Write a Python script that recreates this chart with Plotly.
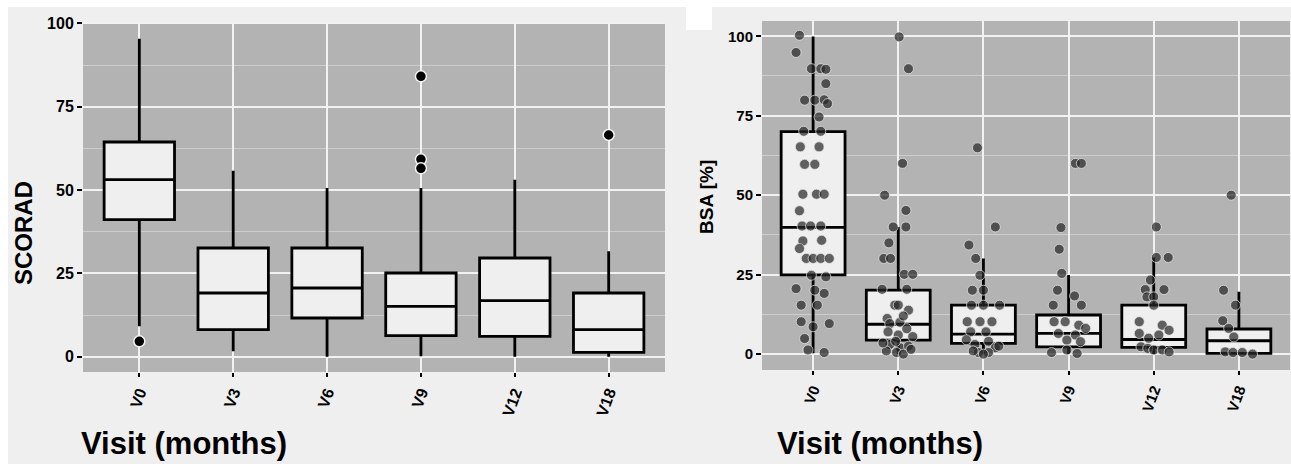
import plotly.graph_objects as go

# ---------------- data ----------------
visits = ["V0", "V3", "V6", "V9", "V12", "V18"]

# SCORAD box statistics
scorad_lowerfence = [9.1, 1.6, 0.0, 0.1, 0.0, 0.0]
scorad_q1 = [41.1, 8.1, 11.6, 6.3, 6.1, 1.3]
scorad_median = [53.1, 19.1, 20.6, 15.1, 16.8, 8.1]
scorad_q3 = [64.4, 32.6, 32.6, 25.1, 29.6, 19.1]
scorad_upperfence = [95.4, 55.8, 50.6, 50.6, 53.1, 31.6]
scorad_outlier_visit = [0, 3, 3, 3, 5]
scorad_outlier_value = [4.6, 84.1, 59.2, 56.5, 66.5]

# BSA box statistics
bsa_lowerfence = [0.3, 0.0, 0.0, 0.0, 0.0, 0.0]
bsa_q1 = [24.9, 4.4, 3.4, 2.3, 2.1, 0.2]
bsa_median = [39.9, 9.4, 6.3, 6.5, 4.6, 4.2]
bsa_q3 = [70.0, 20.1, 15.4, 12.3, 15.4, 7.9]
bsa_upperfence = [99.9, 40.0, 30.1, 24.9, 30.4, 19.6]

# BSA individual (jittered) observations per visit: values and jitter offsets
bsa_v0_values = [100.3, 94.9, 89.8, 89.8, 89.6, 85.1, 79.9, 79.9, 80.0, 78.8, 74.6, 70.1, 70.1,
                 65.2, 65.2, 59.7, 59.7, 50.3, 50.3, 50.3, 45.1, 40.3, 40.3, 40.3, 35.6, 35.8,
                 33.2, 30.1, 30.1, 30.1, 30.1, 24.8, 24.3, 20.6, 20.1, 19.1, 15.4, 15.4, 10.2,
                 8.6, 9.6, 4.9, 1.3, 0.5]
bsa_v0_jitter = [-0.16, -0.20, -0.02, 0.09, 0.15, 0.15, -0.10, 0.02, 0.13, 0.17, 0.07, -0.11, 0.09,
                 -0.15, 0.07, -0.10, 0.02, -0.12, 0.04, 0.13, -0.16, -0.13, -0.03, 0.09, -0.12, 0.10,
                 -0.16, -0.08, 0.00, 0.09, 0.19, -0.02, 0.15, -0.20, 0.02, 0.13, -0.14, 0.05, -0.14,
                 0.00, 0.19, -0.10, -0.06, 0.13]
bsa_v3_values = [99.8, 89.8, 60.0, 50.0, 45.2, 40.0, 40.0, 35.0, 30.1, 30.1, 25.1, 25.1, 20.4, 20.4,
                 15.4, 15.4, 13.8, 11.2, 9.6, 10.0, 7.0, 6.0, 8.0, 5.5, 3.0, 2.0, 1.0, 4.0, 2.5,
                 0.5, 0.0, 1.5, 3.5, 12.0]
bsa_v3_jitter = [0.01, 0.12, 0.05, -0.16, 0.09, -0.06, 0.09, -0.11, -0.17, -0.09, 0.07, 0.17, -0.19, 0.10,
                 -0.04, 0.00, 0.12, -0.13, -0.10, 0.02, -0.12, 0.00, 0.10, 0.17, -0.10, 0.02, -0.14, -0.03, 0.12,
                 -0.02, 0.06, 0.15, -0.18, 0.06]
bsa_v6_values = [64.9, 40.0, 34.3, 30.1, 24.8, 20.1, 20.1, 15.4, 15.4, 15.4, 10.2, 10.2, 10.2, 7.0,
                 7.0, 4.5, 3.0, 4.0, 2.0, 0.5, 1.0, 0.5, 0.0, 2.5]
bsa_v6_jitter = [-0.07, 0.14, -0.17, -0.09, -0.04, -0.13, 0.00, -0.14, 0.00, 0.19, -0.19, -0.04, 0.10, -0.15,
                 0.03, -0.20, -0.10, 0.06, 0.14, -0.06, -0.12, 0.06, 0.00, 0.18]
bsa_v9_values = [60.0, 60.0, 39.8, 33.0, 25.4, 20.1, 18.3, 15.4, 15.4, 10.2, 10.2, 9.1, 8.1, 6.5,
                 6.0, 4.4, 3.9, 0.5, 1.3, 0.2]
bsa_v9_jitter = [0.08, 0.15, -0.09, -0.11, -0.08, -0.13, 0.07, -0.18, 0.15, -0.17, -0.04, 0.12, 0.20, -0.12,
                 0.08, -0.02, 0.14, -0.20, -0.02, 0.10]
bsa_v12_values = [40.0, 30.4, 30.4, 23.3, 20.3, 20.3, 18.0, 18.0, 15.4, 10.2, 9.1, 7.5, 6.5, 5.0,
                  6.0, 2.3, 1.8, 1.3, 1.3, 0.7]
bsa_v12_jitter = [0.03, 0.03, 0.17, -0.04, -0.10, 0.12, -0.08, 0.00, 0.00, -0.17, 0.10, 0.18, -0.17, -0.06,
                  0.06, -0.15, -0.07, 0.00, 0.10, 0.18]
bsa_v18_values = [50.0, 20.1, 15.4, 10.5, 8.1, 5.4, 0.7, 0.5, 0.5, 0.0]
bsa_v18_jitter = [-0.09, -0.18, -0.04, -0.19, -0.12, -0.06, -0.16, -0.07, 0.04, 0.16]

y_ticks = [0, 25, 50, 75, 100]

# ---------------- figure ----------------
W, H = 1291, 464
PANEL_BG = "#b3b3b3"
OUTER_BG = "#efefef"
BOX_FILL = "#efefef"
FONT = "Liberation Sans, Arial, sans-serif"

def px_x(p):
    return p / W

def px_y(p):
    return 1 - p / H

fig = go.Figure()
idx = list(range(len(visits)))

fig.add_trace(go.Box(
    x=idx, q1=scorad_q1, median=scorad_median, q3=scorad_q3,
    lowerfence=scorad_lowerfence, upperfence=scorad_upperfence,
    width=0.75, whiskerwidth=0, boxpoints=False,
    fillcolor=BOX_FILL, line=dict(color="black", width=2.8),
    xaxis="x", yaxis="y", showlegend=False, hoverinfo="skip"))

fig.add_trace(go.Scatter(
    x=scorad_outlier_visit, y=scorad_outlier_value, mode="markers",
    marker=dict(color="black", size=11, line=dict(color="#f4f4f4", width=1.5)),
    xaxis="x", yaxis="y", showlegend=False, hoverinfo="skip"))

fig.add_trace(go.Box(
    x=idx, q1=bsa_q1, median=bsa_median, q3=bsa_q3,
    lowerfence=bsa_lowerfence, upperfence=bsa_upperfence,
    width=0.75, whiskerwidth=0, boxpoints=False,
    fillcolor=BOX_FILL, line=dict(color="black", width=2.8),
    xaxis="x2", yaxis="y2", showlegend=False, hoverinfo="skip"))

groups = [(bsa_v0_values, bsa_v0_jitter), (bsa_v3_values, bsa_v3_jitter),
          (bsa_v6_values, bsa_v6_jitter), (bsa_v9_values, bsa_v9_jitter),
          (bsa_v12_values, bsa_v12_jitter), (bsa_v18_values, bsa_v18_jitter)]
pts_x, pts_y = [], []
for i, (vals, jit) in enumerate(groups):
    for v, j in zip(vals, jit):
        pts_x.append(i + j)
        pts_y.append(v)

fig.add_trace(go.Scatter(
    x=pts_x, y=pts_y, mode="markers",
    marker=dict(color="rgba(40,40,40,0.72)", size=10,
                line=dict(color="rgba(235,235,235,0.7)", width=1)),
    xaxis="x2", yaxis="y2", showlegend=False, hoverinfo="skip"))

def xaxis_cfg(domain, size):
    return dict(domain=domain, range=[-0.6, 5.6], tickvals=idx, ticktext=visits,
                tickangle=-70, showgrid=True, gridcolor="#f2f2f2", gridwidth=2,
                zeroline=False, showline=False, ticks="outside", ticklen=4, tickwidth=2,
                tickcolor="black", automargin=False,
                tickfont=dict(family=FONT, size=size, color="black", weight="bold"),
                fixedrange=True)

def yaxis_cfg(domain, rng, size, anchor):
    return dict(domain=domain, range=rng, tickvals=y_ticks, anchor=anchor,
                showgrid=True, gridcolor="#f2f2f2", gridwidth=2, zeroline=False,
                showline=False, ticks="outside", ticklen=5, tickwidth=2, tickcolor="black",
                automargin=False,
                tickfont=dict(family=FONT, size=size, color="black", weight="bold"),
                minor=dict(tickvals=[12.5, 37.5, 62.5, 87.5], showgrid=True,
                           gridcolor="#cdcdcd", gridwidth=1, ticks=""),
                fixedrange=True)

fig.update_layout(
    width=W, height=H, margin=dict(l=0, r=0, t=0, b=0, autoexpand=False),
    paper_bgcolor=OUTER_BG, plot_bgcolor=PANEL_BG,
    xaxis=xaxis_cfg([px_x(83), px_x(665)], 16),
    yaxis=yaxis_cfg([px_y(372), px_y(22)], [-4.6, 100.4], 16, "x"),
    xaxis2=dict(xaxis_cfg([px_x(762), px_x(1290)], 15), anchor="y2"),
    yaxis2=yaxis_cfg([px_y(370), px_y(21)], [-5.0, 104.8], 15, "x2"),
    showlegend=False,
    shapes=[
        dict(type="rect", xref="paper", yref="paper", x0=0, x1=1,
             y0=px_y(7), y1=1, fillcolor="white", line=dict(width=0), layer="below"),
        dict(type="rect", xref="paper", yref="paper", x0=0, x1=px_x(8),
             y0=0, y1=1, fillcolor="white", line=dict(width=0), layer="below"),
        dict(type="rect", xref="paper", yref="paper", x0=px_x(686), x1=px_x(712),
             y0=px_y(30), y1=1, fillcolor="white", line=dict(width=0), layer="below"),
    ],
    annotations=[
        dict(text="SCORAD", x=px_x(23), y=px_y(233), xref="paper", yref="paper",
             textangle=-90, showarrow=False, xanchor="center", yanchor="middle",
             font=dict(family=FONT, size=24, color="black", weight="bold")),
        dict(text="BSA [%]", x=px_x(707), y=px_y(197), xref="paper", yref="paper",
             textangle=-90, showarrow=False, xanchor="center", yanchor="middle",
             font=dict(family=FONT, size=19, color="black", weight="bold")),
        dict(text="Visit (months)", x=px_x(184), y=px_y(443), xref="paper", yref="paper",
             showarrow=False, xanchor="center", yanchor="middle",
             font=dict(family=FONT, size=31, color="black", weight="bold")),
        dict(text="Visit (months)", x=px_x(880), y=px_y(443), xref="paper", yref="paper",
             showarrow=False, xanchor="center", yanchor="middle",
             font=dict(family=FONT, size=31, color="black", weight="bold")),
    ],
)

fig.write_html(
    "out.html",
    config={"displayModeBar": False},
    post_script="document.body.style.margin='0';document.body.style.padding='0';"
                "document.body.style.overflow='hidden';",
)
